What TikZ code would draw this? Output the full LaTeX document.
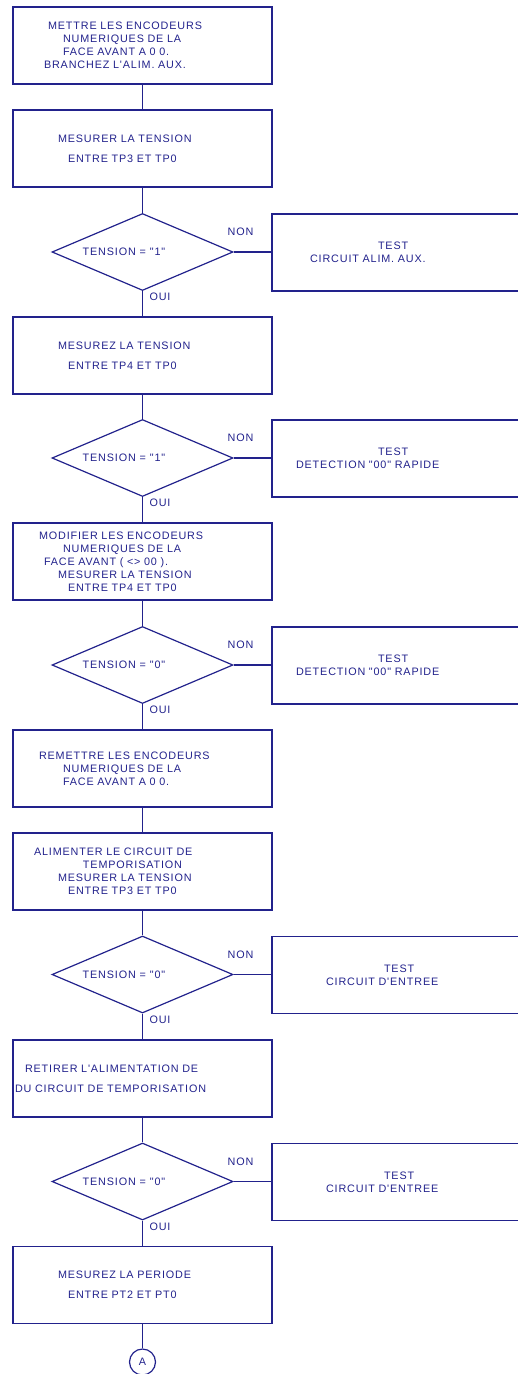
\documentclass[tikz,border=0pt]{standalone}
\usepackage{fontspec}
\setmainfont{Liberation Sans}[Ligatures=TeXOff, LetterSpace=8]
\usetikzlibrary{shapes.geometric}

\definecolor{ink}{RGB}{34,34,140}

\tikzset{
  txt/.style={text=ink, font=\fontsize{10.8}{13}\selectfont},
  stepbox/.style={txt, draw=ink, line width=1.2pt, inner sep=0pt,
    minimum width=259pt, minimum height=77pt, text width=259pt, align=left},
  testbox/.style={txt, draw=ink, line width=1.2pt, inner sep=0pt,
    minimum width=300pt, minimum height=77pt, text width=300pt, align=left},
  decision/.style={txt, diamond, draw=ink, line width=1.2pt, inner sep=0pt,
    minimum width=181pt, minimum height=77pt, aspect=2.35},
  yesno/.style={txt, inner sep=0pt},
  wire/.style={draw=ink, line width=1.2pt},
}

\begin{document}
\begin{tikzpicture}[x=1pt, y=-1pt]

  \clip (0,0) rectangle (518,1374);

  % --- colonne principale ---
  \def\cx{142.5}

  \node[stepbox] (b1) at (\cx,45.5) {%
    \hspace*{35pt}METTRE LES ENCODEURS\\
    \hspace*{50pt}NUMERIQUES DE LA\\
    \hspace*{50pt}FACE AVANT A 0 0.\\
    \hspace*{31pt}BRANCHEZ L'ALIM. AUX.};

  \node[stepbox] (b2) at (\cx,148.5) {%
    \hspace*{45pt}MESURER LA TENSION\\[7pt]
    \hspace*{55pt}ENTRE TP3 ET TP0};

  \node[decision] (d1) at (\cx,252) {TENSION = "1"\hspace*{37pt}};

  \node[stepbox] (b3) at (\cx,355.5) {%
    \hspace*{45pt}MESUREZ LA TENSION\\[7pt]
    \hspace*{55pt}ENTRE TP4 ET TP0};

  \node[decision] (d2) at (\cx,458) {TENSION = "1"\hspace*{37pt}};

  \node[stepbox] (b4) at (\cx,561.5) {%
    \hspace*{26pt}MODIFIER LES ENCODEURS\\
    \hspace*{50pt}NUMERIQUES DE LA\\
    \hspace*{31pt}FACE AVANT ( <> 00 ).\\
    \hspace*{45pt}MESURER LA TENSION\\
    \hspace*{55pt}ENTRE TP4 ET TP0};

  \node[decision] (d3) at (\cx,665) {TENSION = "0"\hspace*{37pt}};

  \node[stepbox] (b5) at (\cx,768.5) {%
    \hspace*{26pt}REMETTRE LES ENCODEURS\\
    \hspace*{50pt}NUMERIQUES DE LA\\
    \hspace*{50pt}FACE AVANT A 0 0.};

  \node[stepbox] (b6) at (\cx,871.5) {%
    \hspace*{21pt}ALIMENTER LE CIRCUIT DE\\
    \hspace*{70pt}TEMPORISATION\\
    \hspace*{45pt}MESURER LA TENSION\\
    \hspace*{55pt}ENTRE TP3 ET TP0};

  \node[decision] (d4) at (\cx,974.5) {TENSION = "0"\hspace*{37pt}};

  \node[stepbox] (b7) at (\cx,1078.5) {%
    \hspace*{12pt}RETIRER L'ALIMENTATION DE\\[7pt]
    \hspace*{2pt}DU CIRCUIT DE TEMPORISATION};

  \node[decision] (d5) at (\cx,1181.5) {TENSION = "0"\hspace*{37pt}};

  \node[stepbox] (b8) at (\cx,1285) {%
    \hspace*{45pt}MESUREZ LA PERIODE\\[7pt]
    \hspace*{55pt}ENTRE PT2 ET PT0};

  \node[txt, circle, draw=ink, line width=1.2pt, minimum size=26pt, inner sep=0pt]
    (conA) at (\cx,1362) {A};

  % --- boites de test (branche NON) ---
  \node[testbox] (t1) at (422,252.5) {%
    \hspace*{106pt}TEST\\
    \hspace*{38pt}CIRCUIT ALIM. AUX.};
  \node[testbox] (t2) at (422,458.5) {%
    \hspace*{106pt}TEST\\
    \hspace*{24pt}DETECTION "00" RAPIDE};
  \node[testbox] (t3) at (422,665.5) {%
    \hspace*{106pt}TEST\\
    \hspace*{24pt}DETECTION "00" RAPIDE};
  \node[testbox] (t4) at (422,975) {%
    \hspace*{112pt}TEST\\
    \hspace*{54pt}CIRCUIT D'ENTREE};
  \node[testbox] (t5) at (422,1182) {%
    \hspace*{112pt}TEST\\
    \hspace*{54pt}CIRCUIT D'ENTREE};

  % --- liaisons ---
  \draw[wire] (b1) -- (b2);
  \draw[wire] (b2) -- (d1);
  \draw[wire] (d1) -- (b3);
  \draw[wire] (b3) -- (d2);
  \draw[wire] (d2) -- (b4);
  \draw[wire] (b4) -- (d3);
  \draw[wire] (d3) -- (b5);
  \draw[wire] (b5) -- (b6);
  \draw[wire] (b6) -- (d4);
  \draw[wire] (d4) -- (b7);
  \draw[wire] (b7) -- (d5);
  \draw[wire] (d5) -- (b8);
  \draw[wire] (b8) -- (conA);
  \foreach \i in {1,...,5}
    \draw[wire] (d\i.east) -- (d\i.east -| t\i.west);

  % NON / OUI
  \foreach \i/\y in {1/252, 2/458, 3/665, 4/974.5, 5/1181.5} {
    \node[yesno] (non\i) at (240.5,\y-20) {NON};
    \node[yesno] (oui\i) at (160,\y+45) {OUI};
  }

\end{tikzpicture}
\end{document}
